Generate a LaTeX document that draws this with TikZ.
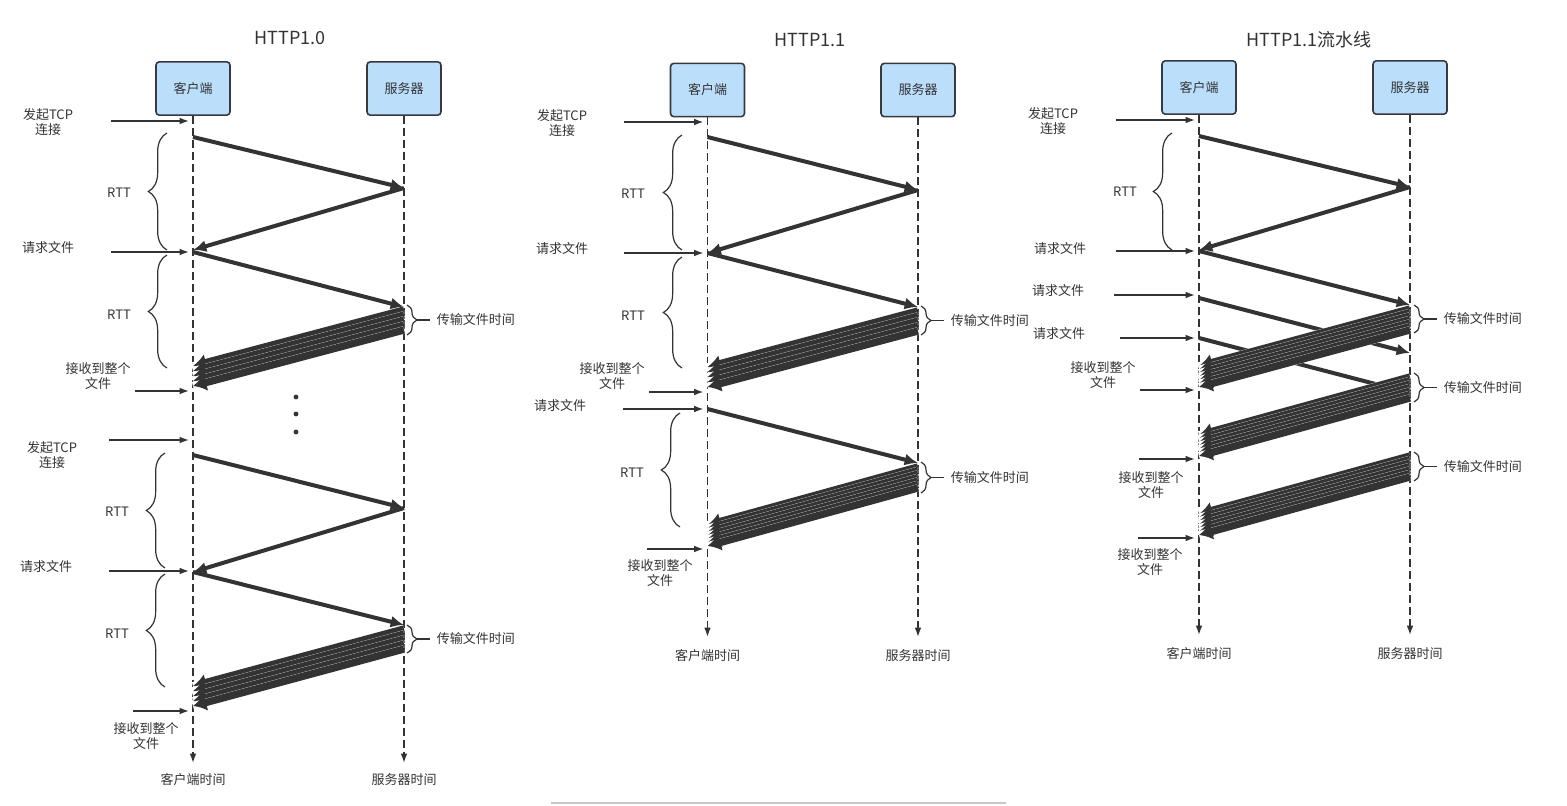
\documentclass[tikz,border=0pt]{standalone}
\usepackage{fontspec}
\setmainfont{Noto Sans CJK SC}
\usetikzlibrary{arrows.meta,calc,positioning,decorations.pathreplacing}
\definecolor{ink}{HTML}{333333}
\definecolor{boxblue}{HTML}{BBDEFB}
\definecolor{boxline}{HTML}{36393D}
% a file sent back as a band of arrows: server, client, y at server, y at client, count, step
\newcommand{\sendfile}[6]{%
  \foreach \k in {1,...,#5}{
    \draw[halo] ($(#1 |- 0,#3)+(0,{(\k-1)*#6})$) -- ($(#2 |- 0,#4)+(0,{(\k-1)*#6})$);
    \draw[fat] ($(#1 |- 0,#3)+(0,{(\k-1)*#6})$) -- ($(#2 |- 0,#4)+(0,{(\k-1)*#6})$);
  }}
% brace beside the server line: name, x, top, bottom
\newcommand{\filetime}[4]{%
  \draw[xferbrace] (#2,#3) -- (#2,#4);
  \coordinate (#1) at ($(#2,#3)!0.5!(#2,#4)+(10,0)$);
  \node[xfer, right=9.75pt of #1] (#1-t) {传输文件时间};
  \draw[ink, line width=0.9pt] (#1) -- (#1-t);}

\begin{document}
\begin{tikzpicture}[x=0.75pt, y=-0.75pt,
  font=\fontsize{9.75pt}{11.6pt}\selectfont, text=ink,
  actor/.style={draw=boxline, fill=boxblue, line width=1.2pt, rounded corners=2.5pt,
    minimum width=55.5pt, minimum height=40pt},
  headtext/.style={font=\fontsize{13.5pt}{16pt}\selectfont},
  lbl/.style={align=center, inner sep=1pt},
  xfer/.style={inner ysep=1pt, inner xsep=5pt},
  life/.style={draw=ink, line width=1.1pt, dash pattern=on 6pt off 3pt, -{Latex[length=7pt,width=5pt]}},
  msg/.style={draw=ink, line width=3pt, -{Latex[length=10pt,width=9pt]}},
  fat/.style={draw=ink, line width=5.5pt, -{Latex[length=10pt,width=13pt]}},
  halo/.style={draw=white, line width=5.8pt},
  evt/.style={draw=ink, line width=1.1pt, -{Latex[length=7pt,width=5pt]}, shorten >=3pt},
  rtt/.style={draw=ink, line width=0.9pt, decorate, decoration={brace, amplitude=14pt}},
  xferbrace/.style={draw=ink, line width=0.9pt, decorate, decoration={brace, amplitude=7.5pt}}]
  \useasboundingbox[fill=white] (0,0) rectangle (1567,806);

  \foreach \i/\cx/\sx/\hy/\tx/\ty/\tt/\ey/\ly in
    {1/193/404/88.5/290/38/HTTP1.0/763/780,
     2/707.5/918/90/810/40/HTTP1.1/637/656,
     3/1199/1410/87.5/1309/40/HTTP1.1流水线/635/654}{
    \node[headtext] (H-\i) at (\tx,\ty) {\tt};
    \node[actor] (C-\i) at (\cx,\hy) {客户端};
    \node[actor] (S-\i) at (\sx,\hy) {服务器};
    \draw[life] (C-\i) -- (C-\i |- 0,\ey);
    \draw[life] (S-\i) -- (S-\i |- 0,\ey);
    \node[lbl] (CT-\i) at (C-\i |- 0,\ly) {客户端时间};
    \node[lbl] (ST-\i) at (S-\i |- 0,\ly) {服务器时间};
  }

  % HTTP1.0
  \node[lbl] (T-1-1) at (48,122) {发起TCP\\连接};
  \draw[evt] (111,121) -- (C-1 |- 0,121);
  \draw[msg] (C-1 |- 0,137) -- (S-1 |- 0,188);
  \draw[msg] (S-1 |- 0,188) -- (C-1 |- 0,250);
  \draw[rtt] (167,250) -- (167,133);
  \node[lbl] (RTT-1-1) at (119,193) {RTT};
  \node[lbl] (Q-1-1) at (48,248) {请求文件};
  \draw[evt] (111,252) -- (C-1 |- 0,252);
  \draw[msg] (C-1 |- 0,252) -- (S-1 |- 0,307);
  \draw[rtt] (167,368) -- (167,255);
  \node[lbl] (RTT-1-2) at (119,315) {RTT};
  \sendfile{S-1}{C-1}{310}{366}{5}{5}
  \filetime{X-1-1}{407}{305}{335}
  \node[lbl] (R-1-1) at (98,376) {接收到整个\\文件};
  \draw[evt] (135,391) -- (C-1 |- 0,391);
  \foreach \y in {397,414,432} \fill[ink] (296,\y) circle (1.8pt);
  \node[lbl] (T-1-2) at (52,455) {发起TCP\\连接};
  \draw[evt] (109,440) -- (C-1 |- 0,440);
  \draw[msg] (C-1 |- 0,455) -- (S-1 |- 0,508);
  \draw[msg] (S-1 |- 0,508) -- (C-1 |- 0,572);
  \draw[rtt] (165,568) -- (165,453);
  \node[lbl] (RTT-1-3) at (117,512) {RTT};
  \node[lbl] (Q-1-2) at (46,567) {请求文件};
  \draw[evt] (109,571) -- (C-1 |- 0,571);
  \draw[msg] (C-1 |- 0,572) -- (S-1 |- 0,625);
  \draw[rtt] (165,687) -- (165,574);
  \node[lbl] (RTT-1-4) at (117,634) {RTT};
  \sendfile{S-1}{C-1}{629}{686}{5}{5}
  \filetime{X-1-2}{407}{625}{653}
  \node[lbl] (R-1-2) at (146,736) {接收到整个\\文件};
  \draw[evt] (133,711) -- (C-1 |- 0,711);

  % HTTP1.1
  \node[lbl] (T-2-1) at (562,123) {发起TCP\\连接};
  \draw[evt] (624,122) -- (C-2 |- 0,122);
  \draw[msg] (C-2 |- 0,137) -- (S-2 |- 0,190);
  \draw[msg] (S-2 |- 0,190) -- (C-2 |- 0,253);
  \draw[rtt] (682,250) -- (682,135);
  \node[lbl] (RTT-2-1) at (633,194) {RTT};
  \node[lbl] (Q-2-1) at (562,249) {请求文件};
  \draw[evt] (624,253) -- (C-2 |- 0,253);
  \draw[msg] (C-2 |- 0,253) -- (S-2 |- 0,307);
  \draw[rtt] (682,368) -- (682,257);
  \node[lbl] (RTT-2-2) at (633,316) {RTT};
  \sendfile{S-2}{C-2}{311}{367}{5}{5}
  \filetime{X-2-1}{921}{306}{335}
  \node[lbl] (R-2-1) at (612,376) {接收到整个\\文件};
  \draw[evt] (649,392) -- (C-2 |- 0,392);
  \node[lbl] (Q-2-2) at (560,406) {请求文件};
  \draw[evt] (623,409) -- (C-2 |- 0,409);
  \draw[msg] (C-2 |- 0,409) -- (S-2 |- 0,463);
  \draw[rtt] (680,527) -- (680,413);
  \node[lbl] (RTT-2-3) at (632,473) {RTT};
  \sendfile{S-2}{C-2}{467}{525}{7}{3.5}
  \filetime{X-2-2}{921}{462}{493}
  \node[lbl] (R-2-2) at (660,573) {接收到整个\\文件};
  \draw[evt] (647,549) -- (C-2 |- 0,549);

  % HTTP1.1 pipelined
  \node[lbl] (T-3-1) at (1053,121) {发起TCP\\连接};
  \draw[evt] (1116,120) -- (C-3 |- 0,120);
  \draw[msg] (C-3 |- 0,136) -- (S-3 |- 0,187);
  \draw[msg] (S-3 |- 0,187) -- (C-3 |- 0,250);
  \draw[rtt] (1172,250) -- (1172,133);
  \node[lbl] (RTT-3-1) at (1125,192) {RTT};
  \node[lbl] (Q-3-1) at (1060,249) {请求文件};
  \draw[evt] (1116,251) -- (C-3 |- 0,251);
  \draw[msg] (C-3 |- 0,251) -- (S-3 |- 0,305);
  \node[lbl] (Q-3-2) at (1058,291) {请求文件};
  \draw[evt] (1114,295) -- (C-3 |- 0,295);
  \draw[msg] (C-3 |- 0,298) -- (S-3 |- 0,353);
  \node[lbl] (Q-3-3) at (1059,334) {请求文件};
  \draw[evt] (1120,338) -- (C-3 |- 0,338);
  \draw[msg] (C-3 |- 0,338) -- (S-3 |- 0,393);
  \sendfile{S-3}{C-3}{309}{366}{7}{3.5}
  \sendfile{S-3}{C-3}{377}{435}{7}{3.5}
  \sendfile{S-3}{C-3}{456}{514}{7}{3.5}
  \filetime{X-3-1}{1414}{305}{333}
  \filetime{X-3-2}{1414}{373}{402}
  \filetime{X-3-3}{1414}{452}{481}
  \node[lbl] (R-3-1) at (1103,375) {接收到整个\\文件};
  \draw[evt] (1140,390) -- (C-3 |- 0,390);
  \node[lbl] (R-3-2) at (1151,485) {接收到整个\\文件};
  \draw[evt] (1139,459) -- (C-3 |- 0,459);
  \node[lbl] (R-3-3) at (1150,562) {接收到整个\\文件};
  \draw[evt] (1138,538) -- (C-3 |- 0,538);

  \draw[line width=2.2pt, black!22] (551,803) -- (1006,803);
\end{tikzpicture}
\end{document}
